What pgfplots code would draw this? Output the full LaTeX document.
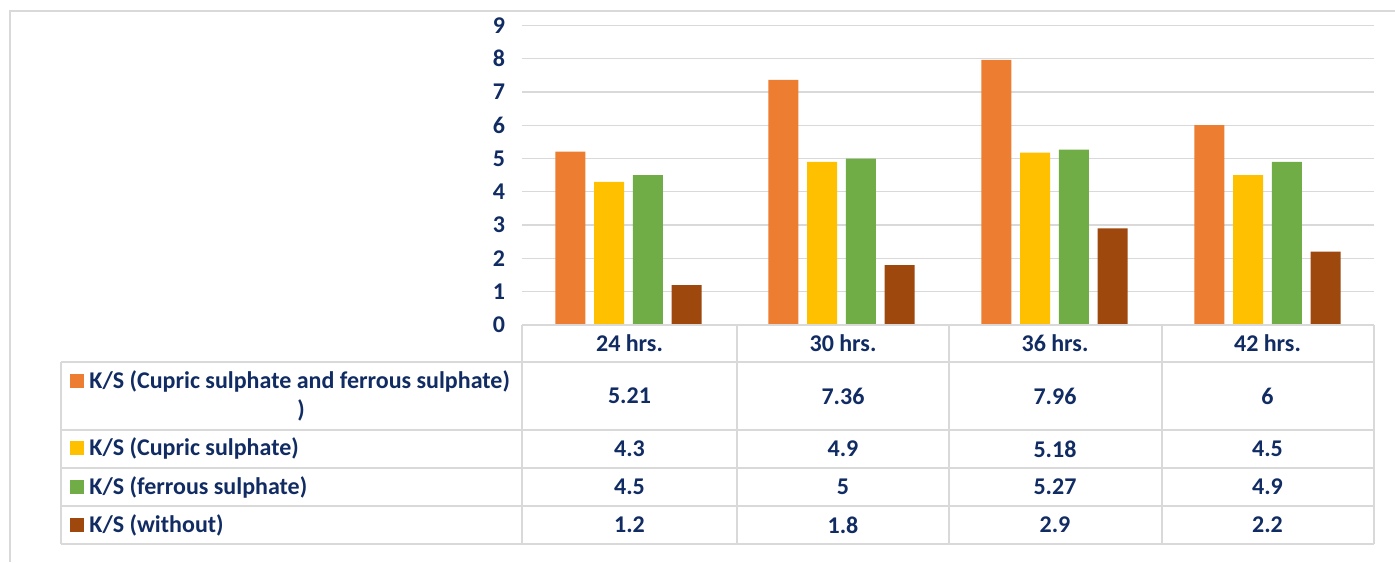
\documentclass[border=0pt]{standalone}
\usepackage{pgfplots}
\pgfplotsset{compat=1.18}
\usepackage{fontspec}
\setmainfont{Carlito}
\definecolor{navy}{HTML}{112B63}
\definecolor{gridc}{HTML}{D9D9D9}
\definecolor{c1}{HTML}{ED7D31}
\definecolor{c2}{HTML}{FFC000}
\definecolor{c3}{HTML}{70AD47}
\definecolor{c4}{HTML}{9E480E}
\begin{document}
\begin{tikzpicture}
\begin{scope}[x=0.5pt,y=-0.5pt]
\path[use as bounding box] (0,0) rectangle (1395,562);
\draw[gridc, line width=0.6pt] (10,562) -- (10,11) -- (1395,11);
\end{scope}
\begin{axis}[at={(261pt,-162.5pt)}, anchor=south west, scale only axis,
  width=426pt, height=149.85pt, xmin=-0.5, xmax=3.5, ymin=0, ymax=9,
  ytick={0,...,9}, xtick=\empty, axis line style={draw=none},
  ymajorgrids, grid style={gridc, line width=0.65pt}, major tick length=0pt,
  ybar=4.35pt, bar width=15pt,
  yticklabel style={font=\fontsize{12}{14}\selectfont\bfseries, text=navy, xshift=-5pt},
  /pgf/number format/assume math mode=true, clip=false]
\addplot[fill=c1, draw=none] coordinates {(0,5.21) (1,7.36) (2,7.96) (3,6)};
\addplot[fill=c2, draw=none] coordinates {(0,4.3) (1,4.9) (2,5.18) (3,4.5)};
\addplot[fill=c3, draw=none] coordinates {(0,4.5) (1,5) (2,5.27) (3,4.9)};
\addplot[fill=c4, draw=none] coordinates {(0,1.2) (1,1.8) (2,2.9) (3,2.2)};
\end{axis}
\begin{scope}[x=0.5pt,y=-0.5pt, font=\fontsize{12}{14}\selectfont\bfseries, text=navy]
\draw[gridc, line width=1pt] (522,325) -- (1374,325);
\foreach \yy in {361.5,430,468,506,544} \draw[gridc, line width=1pt] (61,\yy) -- (1374,\yy);
\foreach \xx in {522,736.5,949,1161.5,1374} \draw[gridc, line width=1pt] (\xx,325) -- (\xx,544);
\draw[gridc, line width=1pt] (61,361.5) -- (61,544);
\node at (629.5,343) {24 hrs.};
\node at (843,343) {30 hrs.};
\node at (1055,343) {36 hrs.};
\node at (1267.5,343) {42 hrs.};
\fill[c1] (70,374) rectangle (84,388);
\fill[c2] (70,441) rectangle (84,455);
\fill[c3] (70,480) rectangle (84,494);
\fill[c4] (70,518) rectangle (84,532);
\node[anchor=west, inner sep=0pt] at (89,381) {K/S (Cupric sulphate and ferrous sulphate)};
\node at (301,410) {)};
\node[anchor=west, inner sep=0pt] at (89,448.5) {K/S (Cupric sulphate)};
\node[anchor=west, inner sep=0pt] at (89,487) {K/S (ferrous sulphate)};
\node[anchor=west, inner sep=0pt] at (89,525) {K/S (without)};
\foreach \xx/\a/\b/\c/\d in {629.5/5.21/4.3/4.5/1.2, 843/7.36/4.9/5/1.8, 1055/7.96/5.18/5.27/2.9, 1267.5/6/4.5/4.9/2.2}{
  \node at (\xx,396) {\a};
  \node at (\xx,449) {\b};
  \node at (\xx,487) {\c};
  \node at (\xx,525) {\d};
}
\end{scope}
\end{tikzpicture}
\end{document}
